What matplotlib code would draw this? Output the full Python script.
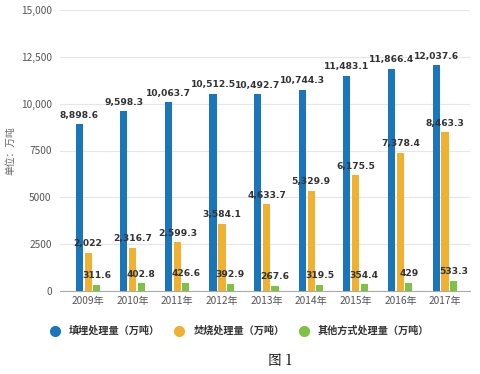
import matplotlib
matplotlib.use("Agg")
import matplotlib.pyplot as plt
import numpy as np
from matplotlib.lines import Line2D

plt.rcParams['font.family'] = ['Noto Sans CJK SC', 'DejaVu Sans']

years = ['2009年', '2010年', '2011年', '2012年', '2013年', '2014年', '2015年', '2016年', '2017年']
landfill = [8898.6, 9598.3, 10063.7, 10512.5, 10492.7, 10744.3, 11483.1, 11866.4, 12037.6]
burn = [2022, 2316.7, 2599.3, 3584.1, 4633.7, 5329.9, 6175.5, 7378.4, 8463.3]
other = [311.6, 402.8, 426.6, 392.9, 267.6, 319.5, 354.4, 429, 533.3]
series_names = ['填埋处理量（万吨）', '焚烧处理量（万吨）', '其他方式处理量（万吨）']
colors = ['#1b75bb', '#f0b030', '#7dc242']

def fmt(v):
    if v == int(v):
        return f"{int(v):,}"
    return f"{v:,.1f}"

fig = plt.figure(figsize=(4.81, 3.74), dpi=100)
ax = fig.add_axes([60/481, 1 - 291/374, 410/481, 281/374])

x = np.arange(len(years))
offsets = [-0.2, 0.0, 0.19]
w = 0.16
for vals, off, c, name in zip([landfill, burn, other], offsets, colors, series_names):
    ax.bar(x + off, vals, width=w, color=c, label=name, zorder=3)
    for xi, v in zip(x, vals):
        ax.text(xi + off, v + 250, fmt(v), ha='center', va='bottom',
                fontsize=6.6, fontweight='bold', color='#333333', zorder=4,
                family='DejaVu Sans')

ax.set_xlim(-0.63, 8.56)
ax.set_ylim(0, 15000)
ax.set_yticks([0, 2500, 5000, 7500, 10000, 12500, 15000])
ax.set_yticklabels(['0', '2500', '5000', '7500', '10,000', '12,500', '15,000'])
ax.set_xticks(x)
ax.set_xticklabels(years)
ax.tick_params(axis='both', length=0, labelsize=7.3, colors='#555555')
ax.tick_params(axis='y', pad=6)
ax.grid(axis='y', color='#e6e6e6', linewidth=0.8, zorder=0)
for s in ['top', 'right', 'left']:
    ax.spines[s].set_visible(False)
ax.spines['bottom'].set_color('#aaaaaa')
ax.set_ylabel('单位：万吨', fontsize=7, color='#666666', labelpad=4)

hs = [Line2D([0], [0], marker='o', linestyle='', markersize=7, markerfacecolor=c, markeredgecolor=c) for c in colors]
fig.legend(hs, series_names, loc='center', bbox_to_anchor=(237/481, 1 - 331/374), ncol=3,
           frameon=False, handletextpad=0.4, columnspacing=0.9,
           labelcolor='#333333', prop={'size': 7.3, 'weight': 'bold'})

fig.text(280/481, 1 - 361/374, '图 1', ha='center', va='center', fontsize=10,
         family=['Noto Serif CJK SC', 'Noto Sans CJK SC'])

fig.savefig('out.png', dpi=100)
